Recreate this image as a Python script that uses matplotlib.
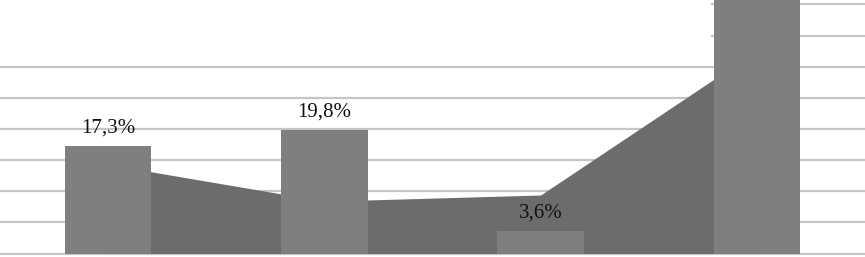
import matplotlib
matplotlib.use("Agg")
import matplotlib.pyplot as plt

categories = ["A", "B", "C", "D"]
bar_values = [17.3, 19.8, 3.6, 45.0]
bar_labels = ["17,3%", "19,8%", "3,6%", None]
area_values = [14.3, 8.4, 9.4, 32.6]
grid_full = [5, 10, 15, 20, 25, 30]
grid_partial = [35, 40]

fig = plt.figure(figsize=(8.65, 2.57), dpi=100)
ax = fig.add_axes([0, 0, 1, 1])
x = list(range(len(categories)))

ax.set_xlim(-0.5, 3.5)
ax.set_ylim(-0.56, 40.72)

for g in grid_full:
    ax.axhline(g, color="#c6c6c6", lw=1.6, zorder=0)
for g in grid_partial:
    ax.axhline(g, xmin=712 / 865, xmax=1, color="#c6c6c6", lw=1.6, zorder=0)
ax.axhline(0, color="#c6c6c6", lw=1.6, zorder=0)

ax.fill_between(x, 0, area_values, color="#6c6c6c", lw=0, zorder=1)
ax.bar(x, bar_values, width=0.4, color="#7f7f7f", zorder=2)

for xi, v, lab in zip(x, bar_values, bar_labels):
    if lab:
        ax.text(xi, v + 2.2, lab, ha="center", va="baseline",
                fontsize=15, family="Liberation Serif", color="#111111", zorder=3)

ax.axis("off")
fig.savefig("out.png", dpi=100)
